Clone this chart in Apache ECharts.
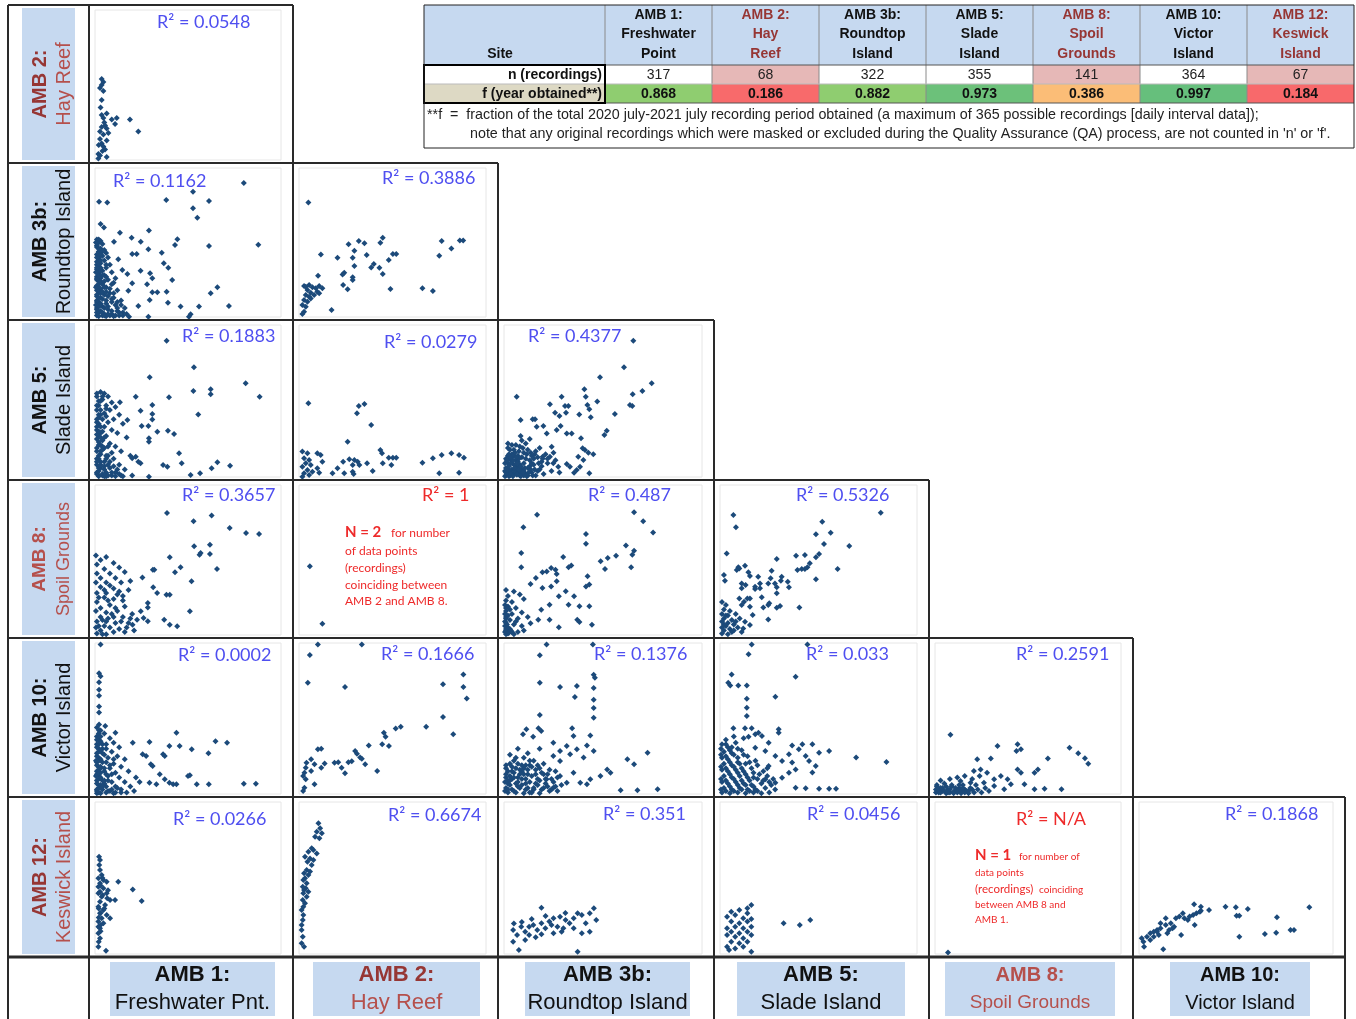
<!DOCTYPE html>
<html>
<head>
<meta charset="utf-8">
<title>AMB scatter matrix</title>
<script src="https://cdn.jsdelivr.net/npm/echarts@6.0.0/dist/echarts.min.js"></script>
<style>
  html, body { margin: 0; padding: 0; background: #fff; }
  #chart { width: 1356px; height: 1019px; }
</style>
</head>
<body>
<div id="chart"></div>
<script>
// sites (table + axis labels)
const siteNames = [
  ['AMB 1:', 'Freshwater', 'Point'],
  ['AMB 2:', 'Hay', 'Reef'],
  ['AMB 3b:', 'Roundtop', 'Island'],
  ['AMB 5:', 'Slade', 'Island'],
  ['AMB 8:', 'Spoil', 'Grounds'],
  ['AMB 10:', 'Victor', 'Island'],
  ['AMB 12:', 'Keswick', 'Island']
]
const nRecordings = [317, 68, 322, 355, 141, 364, 67]
const fObtained = [0.868, 0.186, 0.882, 0.973, 0.386, 0.997, 0.184]

// row labels (y sites) and column labels (x sites)
const rowSites = [['AMB 2:', 'Hay Reef'], ['AMB 3b:', 'Roundtop Island'], ['AMB 5:', 'Slade Island'],
  ['AMB 8:', 'Spoil Grounds'], ['AMB 10:', 'Victor Island'], ['AMB 12:', 'Keswick Island']]
const colSites = [['AMB 1:', 'Freshwater Pnt.'], ['AMB 2:', 'Hay Reef'], ['AMB 3b:', 'Roundtop Island'],
  ['AMB 5:', 'Slade Island'], ['AMB 8:', 'Spoil Grounds'], ['AMB 10:', 'Victor Island']]

// R squared for each pair (row by row)
const rSquared = [
  ['0.0548'],
  ['0.1162', '0.3886'],
  ['0.1883', '0.0279', '0.4377'],
  ['0.3657', '1', '0.487', '0.5326'],
  ['0.0002', '0.1666', '0.1376', '0.033', '0.2591'],
  ['0.0266', '0.6674', '0.351', '0.0456', 'N/A', '0.1868']
]

// points, relative units 0-100 in each panel [x, y]
const amb2_amb1 = [[3.6,54],[4.5,52],[3.6,50],[2.7,48],[4.5,46],[3.6,40],[6.3,31],[3.6,30],[4.5,28],[9,27],[11.7,28],[18.8,27],[10.8,24],[5.4,23],[3.6,22],[6.3,21],[2.7,19],[7.2,18],[23.3,19],[4.5,17],[2.7,14],[6.3,13],[3.6,11],[4.5,9],[5.4,7],[1.8,4],[2.7,3],[6.3,2],[1.8,1],[3,35],[5,25],[2,10],[4,6]]

const amb3_amb1 = [[80,90],[52.7,84],[2.2,77.4],[6.6,76.8],[38.3,78.5],[61.3,77.9],[52.7,73],[55,66.6],[3,62.4],[4.8,60],[29,58],[13.4,56.6],[19.7,53.2],[24.6,50.5],[44.3,52.1],[43,48.3],[10.2,50.5],[61.3,47.6],[87.8,48.5],[28.7,45.4],[35.9,43.2],[20,42.3],[22.4,42.3],[12.5,38.7],[37,36],[39.4,33.1],[24.5,31],[14.7,31.5],[17.4,28.9],[29.6,29.3],[30.8,26],[41.5,24.8],[20,22.6],[28,21.9],[65.8,19.9],[17.9,17.6],[30.8,16.6],[33.5,16.6],[38.5,17],[62.2,15.9],[29.4,11.4],[39.2,9.6],[72,7.4],[46,7],[55.9,7],[23.3,7.4],[51.4,1.8],[50.5,0.2],[28.7,0.2],[18.3,0.2],
  [1,52],[2,50],[3,51],[4,49],[1,47],[3,46],[5,45],[2,44],[6,43],[1,42],[4,41],[7,40],[2,39],[5,38],[1,37],[3,36],[8,35],[2,34],[6,33],[1,32],[4,31],[9,30],[2,29],[5,28],[1,27],[3,26],[7,25],[2,24],[10,23],[4,22],[1,21],[6,20],[3,19],[12,18],[2,17],[8,16],[5,15],[1,14],[3,13],[9,12],[14,11],[2,10],[6,9],[11,8],[4,7],[1,6],[16,6],[7,5],[3,4],[12,4],[2,3],[5,2],[9,2],[1,1],[4,1],[8,1],[13,1],[2,0.5],[6,0.5],[10,0.5],[1,15],[2,20],[1,25],[2,30],[1,35],[2,40],[1,10],[3,8],[1,3],[4,12],[7,14],[5,20],[9,22],[6,27],[3,33],[10,13],[15,3],[12,10],[8,19],[11,26],
  [1,5],[2,7],[3,9],[1,11],[2,13],[3,16],[1,18],[2,22],[3,24],[1,26],[2,28],[3,31],[1,33],[2,36],[3,38],[1,40],[2,43],[3,45],[1,48],[2,52],[4,3],[5,6],[6,11],[4,17],[5,24],[4,28],[6,35],[5,1],[7,2],[9,4],[11,1],[13,3],[15,1],[17,2],[7,7],[9,10],[12,6],[14,8],[10,16],[6,17],[4,44],[3,42],[2,46],[0.5,50],[0.5,30],[0.5,20],[0.5,8]]

const amb3_amb2 = [[5,76.8],[44.8,53.2],[32,51],[35,49.5],[26.5,48.8],[43.5,49.9],[76.3,51],[86,51.3],[87.8,51.3],[81.5,46],[29.6,44.5],[11.7,42],[20.6,39.8],[28.7,39.8],[36.2,41.6],[50.2,42.3],[52,42.3],[75,41.1],[48,38.3],[40,35.6],[38.6,33.3],[43,33.1],[29.6,34.2],[24.2,29.7],[23.3,28.6],[44.8,28.9],[28.7,26.6],[28.7,24.8],[10.2,27.7],[23.6,21.5],[26,18.6],[48.9,18.8],[66,19.3],[71.6,17.4],[17.4,4.7],
  [2.7,20.8],[5.4,21.5],[7.2,19.9],[9,19.3],[10.8,20.8],[9.8,17],[12.5,19.3],[4.5,18.1],[6.3,16.3],[3.6,14.8],[5.4,13.6],[2.7,11.4],[4.5,10.3],[1.8,8],[3.6,6.9],[2.7,3.6],[1.8,2],[10.8,15.9],[8.1,14.8],[6.3,12.5],[3.6,20.3]]

const amb5_amb1 = [[38.5,89.7],[53.2,72.2],[29.4,65.6],[81,61.6],[88.5,52.8],[52.9,56.6],[62.2,57.7],[62.2,54.4],[21.9,52.8],[39.8,52.4],[13.4,49.1],[30.8,47.4],[55.5,41.2],[24.5,43.6],[30.8,41.4],[30.8,37.9],[17.4,37.5],[25.1,33.6],[28.7,33.6],[33.5,29.8],[39.2,30.5],[42.5,28.3],[29,25.5],[29,23.2],[45.2,15.6],[46.6,9],[36.6,7.9],[38.9,6.8],[65.8,9.7],[72.6,7.4],[62.7,5.7],[56.5,2.4],[51.4,1.3],[29,0.2],[23.3,10],[24.5,9],[20,12.3],[21.9,13.4],
  [1,55],[3,56],[5,55],[7,53],[2,50],[4,51],[9,49],[1,47],[6,47],[11,46],[3,44],[8,44],[2,41],[5,42],[13,41],[1,38],[4,38],[10,38],[7,36],[2,35],[15,35],[5,33],[1,31],[9,31],[3,29],[12,29],[6,27],[1,25],[17,26],[4,24],[8,22],[2,21],[11,20],[5,19],[1,17],[14,17],[3,15],[7,14],[19,14],[2,12],[10,12],[5,10],[1,8],[13,8],[3,6],[8,6],[16,5],[2,4],[6,3],[11,3],[1,2],[4,1],[9,1],[14,1],[2,0.5],[6,0.5],[20,1],[3,10],[1,12],[2,27],[1,33],[4,18],[6,14],[3,21],[2,1],[7,8],[5,5],
  [1,3],[2,6],[3,8],[1,10],[2,14],[3,17],[1,19],[2,23],[3,26],[1,28],[2,30],[3,33],[1,36],[2,39],[3,41],[1,44],[2,47],[3,50],[1,53],[4,2],[5,7],[6,12],[4,20],[5,26],[4,30],[6,40],[5,0.5],[7,1],[9,3],[11,0.5],[13,2],[15,0.5],[8,10],[10,7],[12,5],[9,16],[7,20],[6,45],[4,53]]

const amb5_amb2 = [[5,48.5],[32,46.7],[35,48],[31,41.9],[38.6,34.2],[26,23.2],[43.5,17.8],[44.4,15.6],[48,12.7],[50.2,12.7],[52,12.7],[44.8,9],[49.4,7.9],[66,9.4],[71.6,12.3],[76.3,14.5],[81.5,15.6],[85.6,14.5],[88.2,12.7],[75,2.4],[85.6,2.8],
  [23.6,10.1],[26.9,11.6],[29.6,11.2],[31.4,10.1],[28.7,7.9],[32.3,7.9],[36.4,9],[39.4,3.9],[28.7,3.5],[24.2,2.4],[20.6,5.7],[17.9,2.4],[29.2,2],
  [1.8,16.7],[4.5,15.6],[9.8,15.6],[11.6,14.5],[2.7,12.3],[5.4,11.2],[12.5,10.1],[3.6,9],[6.3,7.9],[1.8,6.8],[9.8,5.7],[4.5,4.6],[2.7,2.4],[7.2,3.5],[10.8,2.8],[1.8,0.2],[5.4,1.3]]

const amb5_amb3 = [[65.3,89.7],[60.6,72.2],[48.5,65.6],[74.6,61.6],[69.9,56.6],[65,54.4],[6.4,52.8],[29.1,52.8],[40.6,57.7],[41.3,52.8],[47.1,49.6],[23.2,47.8],[32.5,46.7],[30.8,46.7],[42.1,47.4],[43.1,44.5],[63.6,47.4],[64.8,46.7],[25.8,42.3],[28,40.1],[31.3,42.3],[38,41.2],[56,41.4],[43.8,39.3],[8.4,37.5],[14.5,38],[15.7,38],[28.6,33.6],[19.9,33.6],[16.5,33.1],[26.6,30.9],[34.2,28.7],[31.7,28.7],[51.9,30.5],[50.7,27.6],[38.9,25.5],[21.6,28.7],[8.4,27],[40.9,17.8],[42.6,16],[45.1,14.9],[39.7,18.9],
  [24.1,19.9],[19.5,13.4],[23.2,13.4],[24.9,9],[27.4,6.8],[31.7,8.6],[33.3,6.8],[35.4,2.8],[38.4,6.8],[43.1,2.4],[37.5,13.4],[40.1,11.2],[36.7,4.6],
  [1,1],[2,3],[3,1],[4,5],[5,2],[6,7],[7,3],[8,1],[9,5],[10,9],[11,2],[12,6],[13,11],[14,3],[15,8],[16,1],[17,13],[18,5],[19,10],[20,2],[1,6],[2,9],[3,12],[4,15],[5,18],[6,11],[7,14],[8,20],[9,13],[10,16],[11,22],[12,18],[14,14],[16,17],[18,19],[3,4],[5,8],[7,10],[9,2],[11,12],[13,7],[15,12],[17,4],[2,14],[4,10],[6,3],[8,8],[10,4],[12,1],[14,9],[3,18],[6,21],[9,24],[13,25],[2,22],[1,12],[5,14],[7,6],[22,9],[24,4],[21,15],[26,11],[28,3],[1,3],[2,6],[4,2],[6,5],[8,4],[10,1],[19,7],[22,12],[25,16],
  [0.5,0.5],[1.5,2],[2.5,0.5],[3.5,2.5],[4.5,0.5],[5.5,4],[6.5,1.5],[7.5,5],[8.5,0.5],[0.5,4],[1.5,5],[2.5,7],[3.5,9],[4.5,11],[5.5,6],[6.5,9],[7.5,12],[8.5,7],[9.5,3],[10.5,6],[11.5,0.5],[12.5,3],[13.5,5],[14.5,1],[15.5,5],[0.5,9],[1.5,11],[2.5,15],[3.5,13],[5.5,16],[7.5,17],[9.5,19],[11.5,15],[13.5,16],[15.5,15],[17.5,9],[19.5,12],[2,19],[4,21],[6,13]]

const amb8_amb1 = [[38.7,81.3],[53,75.8],[62.7,79.6],[72.4,71.3],[81.2,68],[88.2,67.3],[53.3,59.1],[61.8,60.2],[61.8,54],[56.2,53.5],[56.8,54.7],[40.2,51.8],[46,45.1],[65.6,44],[31.1,43.5],[31.9,43.5],[43,41.8],[25.5,38.4],[51.9,35.8],[31.3,31.8],[33.4,28],[38.4,26.9],[40.2,26.9],[51,15.8],[28.4,9.1],[28.4,21.3],[28.4,18.4],[37.2,10.2],[40.2,6.9],[44.2,5.8],[24.6,15.8],[26.1,11.3],[22.6,10.2],[20.2,6.9],
  [0.5,53],[3,50],[6,52],[1,47],[10,48],[5,44],[13,45],[1,41],[8,41],[16,42],[3,38],[11,38],[0.5,35],[6,35],[14,35],[19,36],[3,32],[10,31],[1,28],[6,28],[13,29],[18,30],[5,25],[10,24],[1,22],[15,23],[8,20],[3,18],[11,18],[16,19],[0.5,16],[6,15],[20,14],[3,12],[10,12],[15,12],[1,9],[6,9],[11,8],[18,8],[5,6],[0.5,5],[8,5],[13,4],[3,3],[10,2],[16,2],[1,1],[6,0.5],[21,3],[4,0.5],
  [2,6],[4,10],[7,11],[9,14],[12,16],[14,9],[17,5],[19,11],[2,25],[5,30],[8,33],[12,27],[15,26],[7,23]]

const amb8_amb2 = [[5.8,45.8],[12.5,7.5]]

const amb8_amb3 = [[16.7,80.2],[65.7,81.8],[70.3,75.8],[75.3,68.4],[9.8,71.8],[41.4,67.3],[41.4,60.9],[61.6,59.6],[65.7,56.2],[64.8,53.5],[56.6,52.9],[52.4,51.3],[48.8,49.1],[51,44],[64.2,45.1],[8.7,54.7],[8.7,45.1],[29.9,52],[34,46.4],[32.6,45.1],[23.8,44.7],[21.6,42.4],[26.6,40.7],[19.4,41.8],[26,43.5],
  [16.1,38],[13.4,34],[19.4,31.3],[23.8,32.4],[26.6,35.8],[31.2,29.1],[35.4,25.8],[41.4,32.4],[43.1,33.6],[42.2,39.1],[27.7,25.8],[32.6,20.2],[23,20.2],[18.8,16.9],[38.1,19.1],[43.1,19.1],[27.7,5.1],[37,10.2],[38.1,8.7],[44.4,6.9],[17.3,10.2],[13.4,7.8],[23,10.2],
  [1,30],[5,29],[2,26],[8,27],[1,23],[4,22],[10,24],[2,19],[6,18],[1,16],[4,14],[9,15],[1,12],[3,10],[7,11],[12,12],[1,8],[5,7],[2,5],[9,6],[1,3],[4,2],[7,2],[2,1],[1,0.5],[5,0.5],[3,4],[6,9],[10,3],[3,17],
  [0.5,2],[1,4],[0.5,6],[1.5,7],[0.5,9],[1,11],[2,13],[0.5,14],[2.5,1.5],[3.5,3],[1,18],[0.5,20]]

const amb8_amb5 = [[81.6,81.5],[6.8,80],[8.1,71.8],[51.9,75.5],[48.7,67.1],[56.2,68.2],[52.8,60.7],[65.6,59.3],[3.4,54.4],[28.8,50.7],[38.6,52.9],[43.1,53.3],[48.7,51.8],[50.3,54],[45.6,47.8],[44.4,45.1],[43.1,44],[41.5,44],[39.3,43.3],[59.7,44],[48.7,37.1],
  [9.3,45.1],[9.8,44.4],[8.5,43.3],[12.7,46.2],[14.4,41.8],[15.2,39.3],[26.2,42.9],[25.7,37.8],[31.3,38.9],[30.9,36.2],[34.4,35.5],[35,31.8],[27.9,34.4],[28.8,31.8],[24.5,34.4],[19.4,38.9],[20.3,34.4],[17.8,32.2],[20.3,31.1],
  [2,40],[2.5,36.2],[11,34.4],[13,33.3],[11,31.1],[17.8,30.7],[21.2,25.1],[28.8,27.8],[25,21.1],[15.2,24.4],[13.9,24.4],[9.8,24.4],[11,20],[12.2,22.2],[15.2,18.9],[22,18.4],[24.5,20],[30.5,19.3],[28.8,18.2],[40.3,18.4],[16.6,13.3],[24.5,10.4],[15.2,6.7],[12.7,8.9],[11.8,4.4],
  [1,22],[3,20],[2,17],[5,16],[1,14],[4,13],[8,14],[2,11],[6,10],[10,11],[1,9],[4,8],[7,7],[3,6],[1,5],[5,4],[9,5],[2,3],[6,2],[1,1],[4,0.5],[3,13],[7,3],[11,2],[8,9],[2,7]]

const amb10_amb1 = [[3,99],[2.2,80],[3,78],[2.2,74],[2.2,69],[2.2,65],[2.2,58],[2.2,54],[2.2,46],[5.5,45],[2.2,42],[11,40.6],[43.8,40.6],[64.8,35],[71,34],[20.3,34],[29.3,34.5],[40,31.8],[45.5,31.8],[52,29.6],[61,27],[25.6,26.3],[27.5,25.2],[36.6,26.3],[37.5,25.2],[30,19.7],[31,18.5],[51,12.5],[50,11.9],[34.8,13],[37.5,9.7],[40,7.5],[42,6.4],[29.3,7.5],[33,6.4],[43.8,6.4],[54.7,6.4],[61.2,6.4],[80,6.8],[86.5,6.8],
  [1,44],[3,42],[1,38],[5,40],[2,36],[8,37],[1,33],[4,33],[10,34],[2,30],[6,30],[13,31],[1,27],[4,27],[9,28],[2,24],[7,24],[12,25],[16,23],[1,21],[4,21],[10,20],[3,18],[8,17],[14,18],[1,15],[5,15],[11,14],[18,15],[2,12],[7,12],[13,11],[22,11],[1,9],[4,9],[9,8],[16,8],[24,8],[2,6],[6,5],[11,5],[19,5],[1,3],[4,3],[8,2],[14,3],[21,2],[2,1],[6,1],[10,0.5],[17,1],[3,0.5],[1,0.5],[5,7],[3,14],[2,18],
  [1,2],[2,4],[3,6],[1,7],[2,10],[3,11],[1,13],[2,16],[3,17],[1,19],[2,22],[3,23],[1,25],[2,28],[3,29],[1,31],[2,33],[3,35],[1,36],[2,40],[4,5],[5,9],[6,13],[5,17],[6,21],[5,26],[4,30],[7,2],[9,3],[11,1],[12,4],[14,1],[7,9],[9,13],[8,19],[10,23],[6,33],[3,38],[0.5,12],[0.5,22]]

const amb10_amb2 = [[10.1,99],[33.6,99],[5.8,92],[4.7,73.7],[24.6,70.8],[77,72.6],[87.9,79.2],[87.9,70.8],[89.7,63.3],[77,51],[82.5,39.5],[68,44.6],[54.4,44.6],[51.7,43.3],[45.4,40.6],[46.3,37.9],[37.3,32.2],[44.5,32.9],[48.1,31.8],[10.1,29.6],[11.9,30],[30,28.4],[31,26.7],[32.7,24.1],[33.6,23.4],[28.2,21.7],[21,21.1],[26.4,21.1],[35.4,19.7],[41.8,15.2],[24.6,13.7],
  [6.5,23],[4,20.7],[8.3,19.7],[11.9,17.4],[3.6,17.4],[6.5,15.2],[2.9,14.1],[2.2,11.9],[3.6,9.7],[8.3,6.4],[2.9,4.2],[2.2,2],[13.7,20.2],[19,20.7],[22.8,17.4]]

const amb10_amb3 = [[21.5,99],[44.9,99],[18.1,91.9],[18.1,73.7],[28.3,70.9],[36.8,71.5],[35.8,64.2],[45.3,79],[45.9,77],[45.3,70.2],[45.3,62.5],[45.3,57],[45.3,50.5],[18.1,52.3],[17.4,43.5],[18.8,41.7],[34.4,43.5],[35.1,38.4],[43.6,38.8],[11.3,42.8],[9.6,39.5],[14.7,37.9],
  [24.9,34],[31.7,31.8],[36.8,29.6],[41.9,32.2],[28.3,28.5],[24.9,25.2],[33.4,26.3],[28.3,21.9],[40.2,24.1],[45.3,28.5],[72.5,27.4],[62.3,23],[65.7,19.7],[52.1,16.3],[53.8,14.1],[48.7,11.9],[43.6,9.7],[38.5,7.5],[58.9,2.5],[67.4,2.5],[77.6,3.1],[28.3,11.9],[31.7,7.5],[24.9,4.2],[21.5,9.7],[35.1,14.1],[41.9,6.4],
  [1,19],[4,18],[7,20],[10,17],[13,19],[2,15],[5,14],[9,15],[12,13],[16,16],[19,14],[1,11],[4,10],[7,11],[11,10],[14,12],[18,9],[22,13],[2,7],[6,7],[9,6],[13,8],[17,6],[21,7],[25,8],[1,4],[4,3],[8,4],[11,3],[15,4],[19,3],[23,2],[2,1],[6,1],[10,0.5],[14,1],[18,0.5],[3,12],[8,13],[5,22],[10,24],[3,26],[15,22],[20,20],[12,27],[7,30],[18,30],[2,9],[26,15],
  [0.5,2],[2,3],[3,6],[5,2],[7,5],[0.5,8],[3,9],[5,11],[7,8],[9,10],[11,7],[12,4],[13,1],[15,3],[16,7],[17,10],[20,4],[21,10],[22,5],[24,3],[26,5],[1,13],[4,15],[6,17],[8,16],[10,13],[12,16],[14,18],[16,13],[18,17],[20,13],[23,16],[24,10],[27,11],[1,17],[3,20],[6,24],[9,19],[11,19],[13,22],[17,19],[27,2],[29,6]]

const amb10_amb5 = [[16.1,99],[44.4,99],[14.5,92.6],[5.9,79.2],[4.2,73.7],[9.3,71.9],[5.2,71.9],[38.4,77.7],[13.6,71.9],[13.6,63.1],[13.6,57.2],[13.6,51.7],[28.1,64.4],[6.8,43.5],[12.7,43.5],[16.1,43.5],[17.9,39.5],[14.5,37.9],[19.5,40.6],[29.8,42.8],[29.8,40.6],
  [36.6,32.2],[41.8,32.9],[46.9,32.9],[40,29.6],[35,26.3],[43.5,25.2],[50.3,27.4],[55.4,28.5],[45.2,21.9],[48.6,18.5],[36.6,20.8],[38.4,16.3],[69.1,24.1],[84.5,21.2],[46.9,14.3],[38.4,4.2],[43.5,3.8],[50.3,3.5],[55.4,3.5],[58.9,3.5],
  [21.3,38.4],[24.7,34],[17.9,30.7],[23,28.5],[28.1,25.2],[31.5,21.9],[24.7,18.5],[35,14.1],[31.5,10.8],[23,9.7],[28.1,7.5],
  [1,33],[4,31],[8,34],[2,28],[6,27],[11,29],[1,24],[4,23],[9,24],[14,25],[2,20],[6,19],[10,20],[15,21],[19,19],[1,16],[4,15],[8,16],[12,15],[17,14],[22,15],[2,12],[6,11],[10,12],[14,11],[19,10],[24,12],[1,8],[4,7],[8,8],[12,7],[16,6],[21,7],[26,6],[2,4],[6,3],[10,4],[14,3],[18,3],[23,4],[28,3],[1,1],[5,0.5],[9,1],[13,0.5],[17,1],[21,0.5],[25,1],[3,36],[7,38],[12,37],
  [0.5,3],[3,2],[5,5],[7,2],[9,6],[11,3],[13,6],[15,2],[17,5],[19,2],[0.5,10],[3,9],[5,13],[7,10],[9,14],[11,9],[13,13],[15,9],[17,11],[20,13],[0.5,18],[3,17],[5,21],[7,18],[9,21],[11,17],[13,20],[16,17],[18,22],[0.5,26],[3,25],[5,29],[7,26],[9,30],[12,26],[0.5,30],[3,33],[6,31],[22,9],[25,8],[27,10],[24,17]]

const amb10_amb8 = [[8.3,39.3],[33.6,31.8],[44.4,32.9],[46.2,29.6],[43.8,28.5],[72.3,30.7],[77,27],[80.6,23.7],[82.4,20],[60.7,23.5],[22.7,23],[30,23.5],[24.5,16.3],[20.9,15.2],[44.4,16.3],[55.3,16.3],[53.5,14.1],[46.2,14.1],[35.4,11.9],[31.8,9.7],[39,9.7],[40.8,6.4],[37.2,3.1],[48.1,6.4],[31.8,5.3],[26.3,7.5],[19.1,7.5],[13.7,8.6],[53.5,3.1],[58.9,3.5],[68,3.1],
  [1,6],[3,4],[5,7],[7,3],[9,5],[11,2],[13,4],[15,6],[17,2],[19,4],[21,1],[2,1],[4,2],[6,0.5],[8,1],[10,0.5],[12,1],[14,0.5],[16,3],[18,0.5],[23,3],[25,1],[27,4],[29,2],[3,9],[8,10],[12,11],[16,12],[20,10],[24,12],[28,14],[22,6],
  [0.5,1],[0.5,3],[1,5],[2,2.5],[3,1],[4,4],[5,2],[6,5],[7,1],[8,3],[9,6],[10,1.5],[11,4],[12,2],[13,6],[14,2],[15,4],[16,1],[18,2],[20,3]]

const amb12_amb1 = [[2.2,64],[2.7,61.8],[2.3,58.6],[2.7,55.3],[3.6,52],[1.8,49.8],[4.5,48.7],[2.7,46.5],[6.3,47.6],[1.8,44.3],[4.5,43.2],[12.5,47.6],[20.3,42.5],[25.1,34.9],[6.3,39.9],[3.6,37.7],[8.1,35.5],[10.8,35.5],[2.7,34.4],[5.4,32.2],[1.8,31.1],[4.5,28.9],[2.7,26.8],[6.3,25.7],[3.6,23.5],[8.1,23.5],[1.8,21.3],[4.5,20.2],[2.7,16.9],[1.8,13.6],[2.7,10.3],[1.8,4.8],[5.9,2.2],[4.1,38.8],[6.6,36.6],[2.7,41],
  [1.8,40],[3,45],[2,30],[3,27],[2,24],[3,19],[1.8,18],[3,15],[2,8],[5,30],[7,42],[4,50]]

const amb12_amb2 = [[10.4,86],[11.3,82.7],[9.5,80.5],[12.2,79.4],[8.6,77.2],[10.9,76.1],[6.8,69.5],[7.7,68.4],[5,67.3],[9.5,66.2],[3.2,64],[5.9,62.9],[7.7,61.8],[4.5,60.7],[6.8,58.6],[4.1,55.3],[5.9,54.2],[2.7,53.1],[5,52],[3.2,49.8],[2.3,48.7],[4.1,46.5],[2,44.3],[3.6,43.2],[2.7,42.1],[5,41],[2.3,39.9],[4.1,37.7],[2,35.5],[3.2,33.4],[2.3,31.1],[1.4,28.9],[2.3,25.7],[2,22.4],[1.4,19.1],[1.4,15.8],[2,11.4],[1.4,7],[2.7,4.8]]

const amb12_amb3 = [[18.9,30.5],[25,23.5],[28.3,24.5],[35.2,23.5],[37.2,26.8],[39.3,25.7],[43.3,26.8],[45.4,30.1],[46.6,22.4],[41.3,20.2],[31.1,22.4],[33.1,20.2],[22.9,21.3],[18.9,20.2],[14.8,19.1],[12.7,18],[8.7,18],[4.6,15.8],[10.7,14.7],[16.8,15.8],[20.9,16.9],[27,18],[29.1,14.7],[35.2,16.9],[39.3,13.6],[43.3,14.7],[6.6,12.5],[12.7,12.5],[18.9,13],[25,13.6],[10.7,9.2],[4.6,8.1],[7.5,2.6],[37.2,1.5],
  [14,23],[21,25],[31,27],[9,21],[24,19],[16,11],[5,20],[30,17]]

const amb12_amb5 = [[15.9,32.2],[13.9,30.1],[9.8,28.9],[5.7,27.8],[13.9,26.8],[7.7,25.7],[3.6,24.5],[11.8,23.5],[15.9,23],[5.7,21.3],[9.8,20.2],[13.9,21.3],[7.7,18],[3.6,16.9],[11.8,16.9],[15.9,18],[5.7,14.7],[9.8,13.6],[13.9,14.7],[3.6,12.5],[7.7,11.4],[11.8,10.3],[15.9,12.5],[5.7,8.1],[9.8,7],[13.9,8.1],[3.6,4.8],[7.7,3.7],[11.8,4.8],[15.9,1.5],[4.6,2.6],[32.3,20.2],[40.5,19.1],[45.8,22.4]]

const amb12_amb8 = [[7,1]]

const amb12_amb10 = [[28.4,32.7],[31.9,31.1],[31.9,28.5],[36.1,28.9],[44.6,31.1],[49.9,30.7],[56.1,29.6],[50.3,25.2],[51.7,25.2],[87.8,30.7],[71.1,24.1],[1.4,10.3],[2.3,8.1],[2.6,4.8],[12.5,3.1],[4.1,11.4],[5.8,13.6],[7.6,14.7],[9.3,15.8],[11.1,16.9],[13.8,19.1],[13.8,23.5],[16.4,20.2],[19,23.5],[20.8,24.6],[22.6,26.8],[23.4,23.5],[25.2,22.4],[26.1,24.6],[27.9,25.7],[29.6,26.8],[31.4,27.8],[18.1,18],[15.5,15.8],[17.3,16.9],[21.7,12.5],[14.6,13.6],[10.2,12.5],[7.6,11.4],[5.8,9.2],[28.7,19.1],[51.7,11.4],[64.9,13.2],[70.7,14],[78.1,15.8],[79.9,15.8],[11.1,20.2],[9.3,14.7]]

const panelData = [
  [amb2_amb1],
  [amb3_amb1, amb3_amb2],
  [amb5_amb1, amb5_amb2, amb5_amb3],
  [amb8_amb1, amb8_amb2, amb8_amb3, amb8_amb5],
  [amb10_amb1, amb10_amb2, amb10_amb3, amb10_amb5, amb10_amb8],
  [amb12_amb1, amb12_amb2, amb12_amb3, amb12_amb5, amb12_amb8, amb12_amb10]
]

// layout (pixels)
const colEdges = [89, 293, 498, 714, 929, 1133, 1345]
const rowEdges = [5, 163, 320, 480, 638, 797, 957]
// R² label anchor (left, middle) for each panel
const r2Pos = [
  [[157, 22]],
  [[113, 181], [382, 178]],
  [[182, 336], [384, 342], [528, 336]],
  [[182, 495], [422, 495], [588, 495], [796, 495]],
  [[178, 655], [381, 654], [594, 654], [806, 654], [1016, 654]],
  [[173, 819], [388, 815], [603, 814], [807, 814], [1016, 819], [1225, 814]]
]

const RED_DARK = '#963634'
const RED_LIGHT = '#b5504c'
const BLUE_BOX = '#c6d9f0'
const R2_BLUE = '#4f4ff0'
const NOTE_RED = '#ee2a2a'
const redSite = (s) => /AMB (2|8|12):/.test(s)

let grid = [], xAxis = [], yAxis = [], series = [], gfx = []

function txt(x, y, text, font, fill, align, rot) {
  return {
    type: 'text', x: x, y: y, z: 20, rotation: rot || 0,
    style: { text: text, font: font, fill: fill, textAlign: align || 'left', align: align || 'left',
      textVerticalAlign: 'middle', verticalAlign: 'middle' }
  }
}
function rect(x, y, w, h, fill, stroke, lw) {
  return { type: 'rect', z: 5, shape: { x: x, y: y, width: w, height: h },
    style: { fill: fill, stroke: stroke || null, lineWidth: lw || 0 } }
}
function line(x1, y1, x2, y2, lw, color) {
  return { type: 'line', z: 30, shape: { x1: x1, y1: y1, x2: x2, y2: y2 },
    style: { stroke: color || '#2a2a2a', lineWidth: lw || 2 } }
}

// scatter panels
panelData.forEach((row, r) => {
  row.forEach((data, c) => {
    const k = grid.length
    const x0 = colEdges[c], x1 = colEdges[c + 1]
    const y0 = rowEdges[r], y1 = rowEdges[r + 1]
    grid.push({ left: x0 + 6, top: y0 + 5, width: x1 - x0 - 18, height: y1 - y0 - 8,
      show: true, borderColor: '#e6e6e6', borderWidth: 1 })
    xAxis.push({ type: 'value', gridIndex: k, min: 0, max: 100, show: false })
    yAxis.push({ type: 'value', gridIndex: k, min: 0, max: 100, show: false })
    series.push({ type: 'scatter', xAxisIndex: k, yAxisIndex: k, data: data,
      symbol: 'diamond', symbolSize: 6, itemStyle: { color: '#1c4a7a', opacity: 1 }, silent: true })
    const v = rSquared[r][c]
    const isRed = (v === '1' || v === 'N/A')
    const p = r2Pos[r][c]
    gfx.push(txt(p[0], p[1], 'R² = ' + v, '18px Lato', isRed ? NOTE_RED : R2_BLUE))
  })
})

// notes in the two special panels
gfx.push(txt(345, 532, 'N = 2', 'bold 15px Lato', NOTE_RED))
gfx.push(txt(391, 533, 'for number', '12px Lato', NOTE_RED))
gfx.push(txt(345, 551, 'of data points', '12px Lato', NOTE_RED))
gfx.push(txt(345, 568, '(recordings)', '12px Lato', NOTE_RED))
gfx.push(txt(345, 585, 'coinciding between', '12px Lato', NOTE_RED))
gfx.push(txt(345, 601, 'AMB 2 and AMB 8.', '12px Lato', NOTE_RED))

gfx.push(txt(975, 855, 'N = 1', 'bold 15px Lato', NOTE_RED))
gfx.push(txt(1019, 857, 'for number of', '10px Lato', NOTE_RED))
gfx.push(txt(975, 873, 'data points', '10px Lato', NOTE_RED))
gfx.push(txt(975, 889, '(recordings)', '11.5px Lato', NOTE_RED))
gfx.push(txt(1039, 890, 'coinciding', '10px Lato', NOTE_RED))
gfx.push(txt(975, 905, 'between AMB 8 and', '10px Lato', NOTE_RED))
gfx.push(txt(975, 920, 'AMB 1.', '10px Lato', NOTE_RED))

// row labels on the left (rotated)
rowSites.forEach((s, r) => {
  const y0 = rowEdges[r], y1 = rowEdges[r + 1]
  const cy = (y0 + y1) / 2
  const red = redSite(s[0])
  gfx.push(rect(22, y0 + 3, 53, y1 - y0 - 6, BLUE_BOX))
  const small = s[0] === 'AMB 8:'
  gfx.push(txt(40, cy, s[0], 'bold ' + (small ? 19 : 20) + 'px "Liberation Sans"', red ? (small ? RED_LIGHT : RED_DARK) : '#111', 'center', Math.PI / 2))
  gfx.push(txt(64, cy, s[1], (small ? 18 : 20) + 'px "Liberation Sans"', red ? RED_LIGHT : '#111', 'center', Math.PI / 2))
})

// column labels at the bottom
const boxX = [[110, 275], [313, 480], [525, 690], [737, 905], [945, 1115], [1170, 1310]]
colSites.forEach((s, c) => {
  const bx = boxX[c]
  const cx = (bx[0] + bx[1]) / 2
  const red = redSite(s[0])
  const small = s[0] === 'AMB 8:'
  const small2 = s[0] === 'AMB 10:'
  gfx.push(rect(bx[0], 962, bx[1] - bx[0], 54, BLUE_BOX))
  gfx.push(txt(cx, 975, s[0], 'bold ' + (small || small2 ? 20 : 22) + 'px "Liberation Sans"', red ? (small ? RED_LIGHT : RED_DARK) : '#111', 'center'))
  gfx.push(txt(cx, 1003, s[1], (small ? 19 : small2 ? 20 : 22) + 'px "Liberation Sans"', red ? RED_LIGHT : '#111', 'center'))
})

// matrix borders
gfx.push(line(8, 5, 293, 5))
for (let r = 1; r <= 6; r++) {
  gfx.push(line(8, rowEdges[r], colEdges[Math.min(r + 1, 6)], rowEdges[r], r === 6 ? 3 : 2))
}
gfx.push(line(8, 5, 8, 1019))
gfx.push(line(89, 5, 89, 1019))
gfx.push(line(293, 5, 293, 1019))
for (let c = 2; c <= 6; c++) {
  gfx.push(line(colEdges[c], rowEdges[c - 1], colEdges[c], 1019))
}

// site table (top right)
const tL = 424, tR = 1354, siteW = 181, colW = 107
const fColors = ['#8fcd70', '#f86a6b', '#8fcd70', '#6cc17a', '#fbbd77', '#66bf7c', '#f8696b']
gfx.push(rect(tL, 5, tR - tL, 60, BLUE_BOX))
gfx.push(rect(tL, 65, tR - tL, 83, '#ffffff'))
gfx.push(rect(tL, 84, siteW, 19, '#ddd9c4'))
gfx.push(txt(500, 54, 'Site', 'bold 14px "Liberation Sans"', '#111', 'center'))
siteNames.forEach((s, i) => {
  const x0 = tL + siteW + i * colW
  const cx = x0 + colW / 2
  const red = redSite(s[0])
  const col = red ? RED_DARK : '#111'
  gfx.push(txt(cx, 15, s[0], 'bold 14px "Liberation Sans"', col, 'center'))
  gfx.push(txt(cx, 34, s[1], 'bold 14px "Liberation Sans"', col, 'center'))
  gfx.push(txt(cx, 54, s[2], 'bold 14px "Liberation Sans"', col, 'center'))
  if (fObtained[i] < 0.5) gfx.push(rect(x0, 65, colW, 19, '#e6b8b7'))
  gfx.push(rect(x0, 84, colW, 19, fColors[i]))
  gfx.push(txt(cx, 75, String(nRecordings[i]), '14px "Liberation Sans"', '#222', 'center'))
  gfx.push(txt(cx, 94, fObtained[i].toFixed(3), 'bold 14px "Liberation Sans"', '#111', 'center'))
  if (i > 0) gfx.push(line(x0, 5, x0, 103, 1, '#8a8a8a'))
})
gfx.push(txt(602, 75, 'n (recordings)', 'bold 14px "Liberation Sans"', '#111', 'right'))
gfx.push(txt(602, 94, 'f (year obtained**)', 'bold 14px "Liberation Sans"', '#111', 'right'))
gfx.push(line(tL + siteW, 5, tL + siteW, 65, 1, '#8a8a8a'))
gfx.push(line(tL, 65, tR, 65, 1, '#555'))
gfx.push(line(tL, 84, tR, 84, 1, '#bbbbbb'))
gfx.push(line(tL, 103, tR, 103, 1, '#555'))
gfx.push({ type: 'rect', z: 31, shape: { x: tL, y: 65, width: siteW, height: 38 },
  style: { fill: null, stroke: '#000', lineWidth: 2 } })
gfx.push({ type: 'rect', z: 31, shape: { x: tL, y: 5, width: tR - tL, height: 143 },
  style: { fill: null, stroke: '#222', lineWidth: 1 } })
gfx.push(txt(427, 115, '**f  =  fraction of the total 2020 july-2021 july recording period obtained (a maximum of 365 possible recordings [daily interval data]);', '14.3px "Liberation Sans"', '#222'))
gfx.push(txt(470, 134, 'note that any original recordings which were masked or excluded during the Quality Assurance (QA) process, are not counted in \'n\' or \'f\'.', '14.3px "Liberation Sans"', '#222'))

const chart = echarts.init(document.getElementById('chart'))
chart.setOption({
  animation: false,
  backgroundColor: '#ffffff',
  grid: grid,
  xAxis: xAxis,
  yAxis: yAxis,
  series: series,
  graphic: gfx
})
</script>
</body>
</html>
